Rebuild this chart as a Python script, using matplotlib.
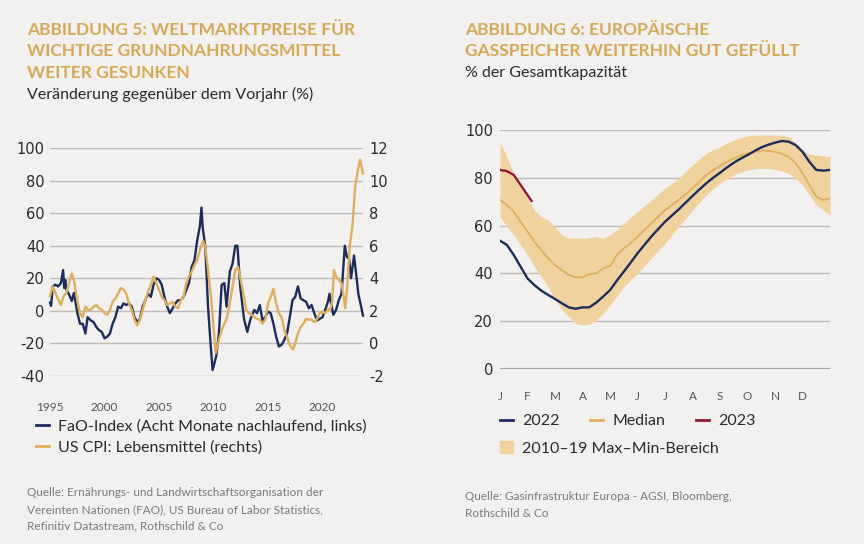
import matplotlib
matplotlib.use("Agg")
import matplotlib.pyplot as plt
from matplotlib.lines import Line2D
from matplotlib.patches import Patch

plt.rcParams["axes.unicode_minus"] = False

# --- Abbildung 5: FAO-Index (links) und US CPI Lebensmittel (rechts) ---
fao_years = [1995.0, 1995.1, 1995.25, 1995.5, 1995.75, 1996.0, 1996.2, 1996.3, 1996.4, 1996.5,
             1996.75, 1997.0, 1997.2, 1997.5, 1997.75, 1998.0, 1998.25, 1998.45, 1998.75, 1999.0,
             1999.25, 1999.5, 1999.75, 2000.0, 2000.25, 2000.5, 2000.75, 2001.0, 2001.25, 2001.5,
             2001.75, 2002.0, 2002.25, 2002.5, 2002.75, 2003.0, 2003.25, 2003.5, 2003.75, 2004.0,
             2004.25, 2004.5, 2004.75, 2005.0, 2005.25, 2005.5, 2005.75, 2006.0, 2006.25, 2006.5,
             2006.75, 2007.0, 2007.25, 2007.5, 2007.75, 2008.0, 2008.25, 2008.5, 2008.75, 2008.9,
             2009.0, 2009.25, 2009.5, 2009.75, 2009.92, 2010.25, 2010.5, 2010.75, 2011.0, 2011.2,
             2011.5, 2011.75, 2012.0, 2012.2, 2012.45, 2012.8, 2013.1, 2013.4, 2013.75, 2014.0,
             2014.25, 2014.5, 2014.75, 2015.0, 2015.25, 2015.5, 2015.75, 2016.0, 2016.25, 2016.5,
             2016.75, 2017.0, 2017.25, 2017.5, 2017.75, 2018.0, 2018.25, 2018.5, 2018.75, 2019.0,
             2019.25, 2019.5, 2019.75, 2020.0, 2020.25, 2020.5, 2020.65, 2020.8, 2021.0, 2021.25,
             2021.5, 2021.75, 2022.05, 2022.25, 2022.45, 2022.62, 2022.9, 2023.1, 2023.3, 2023.5,
             2023.72]
fao_vals = [5, 3, 15, 16, 15, 17, 25, 14, 19, 13,
            10, 6, 11, -1, -8, -8, -14, -4, -6, -7,
            -10, -12, -13, -17, -16, -14, -8, -4, 2.5, 1.5,
            4.5, 3.5, 4.5, 2.5, -4, -7, -5, 2.5, 6.5, 10.5,
            8.5, 16, 20, 19, 16, 8.5, 2.5, -1.5, 1.5, 4.5,
            6.5, 6.5, 8.5, 12.5, 17, 27, 31, 43, 52, 63.5,
            52, 39, 2.5, -22, -36.5, -28, -14, 16, 17, 2.5,
            24, 29, 40, 40, 15, -5, -13, -5, 0.5, -1.5,
            3.5, -6, -4, -0.5, -1.5, -8, -16, -22, -21, -18,
            -14, -4, 6.5, 8.5, 15, 7.5, 6.5, 5.5, 1.5, 3.5,
            -1.5, -6, -5, -4, 0.5, 5.5, 10.5, 4, -2.5, 0.5,
            6.5, 10.5, 40, 33, 32, 20, 34, 22, 10, 4,
            -3]

cpi_years = [1995.0, 1995.25, 1995.5, 1995.75, 1996.0, 1996.25, 1996.5, 1996.75, 1997.0, 1997.25,
             1997.5, 1997.75, 1998.0, 1998.25, 1998.5, 1998.75, 1999.0, 1999.25, 1999.5, 1999.75,
             2000.0, 2000.25, 2000.5, 2000.75, 2001.0, 2001.25, 2001.5, 2001.75, 2002.0, 2002.25,
             2002.5, 2002.75, 2003.0, 2003.25, 2003.5, 2003.75, 2004.0, 2004.25, 2004.5, 2004.75,
             2005.0, 2005.25, 2005.5, 2005.75, 2006.0, 2006.25, 2006.5, 2006.75, 2007.0, 2007.25,
             2007.5, 2007.75, 2008.0, 2008.25, 2008.5, 2008.75, 2009.05, 2009.25, 2009.5, 2009.75,
             2010.0, 2010.2, 2010.5, 2010.75, 2011.0, 2011.25, 2011.5, 2011.75, 2012.0, 2012.25,
             2012.5, 2012.75, 2013.0, 2013.25, 2013.5, 2013.75, 2014.0, 2014.25, 2014.5, 2014.75,
             2015.0, 2015.25, 2015.5, 2015.75, 2016.0, 2016.25, 2016.5, 2016.75, 2017.0, 2017.3,
             2017.5, 2017.75, 2018.0, 2018.25, 2018.5, 2018.75, 2019.0, 2019.25, 2019.5, 2019.75,
             2020.0, 2020.25, 2020.5, 2020.75, 2020.9, 2021.05, 2021.25, 2021.5, 2021.75, 2022.0,
             2022.08, 2022.25, 2022.5, 2022.75, 2023.0, 2023.25, 2023.45, 2023.72]
cpi_vals = [2.9, 3.5, 3.1, 2.7, 2.35, 2.9, 3.1, 3.7, 4.3, 3.7,
            2.65, 1.85, 1.6, 2.25, 2.05, 2.05, 2.25, 2.35, 2.15, 2.05,
            1.85, 1.75, 2.05, 2.55, 2.75, 3.05, 3.4, 3.3, 3.05, 2.45,
            2.05, 1.45, 1.1, 1.45, 2.05, 2.65, 3.15, 3.6, 4.1, 3.7,
            3.3, 2.85, 2.65, 2.35, 2.45, 2.55, 2.25, 2.15, 2.65, 2.85,
            3.7, 4.1, 4.4, 4.8, 5.1, 5.75, 6.3, 5.95, 4.5, 3.05,
            1.0, -0.6, 0.2, 0.8, 1.2, 1.6, 2.45, 3.5, 4.5, 4.7,
            3.9, 3.05, 2.05, 1.85, 1.75, 1.6, 1.5, 1.45, 1.2, 1.45,
            2.45, 2.85, 3.35, 2.45, 1.85, 1.6, 0.8, 0.4, -0.1, -0.4,
            0.0, 0.6, 1.0, 1.2, 1.5, 1.45, 1.45, 1.3, 1.5, 1.85,
            1.95, 1.85, 2.05, 2.15, 2.6, 4.5, 4.1, 3.9, 3.7, 2.65,
            2.15, 3.3, 5.95, 7.2, 9.6, 10.65, 11.3, 10.45]

year_ticks = [1995, 2000, 2005, 2010, 2015, 2020]

# --- Abbildung 6: Gasspeicher (% der Gesamtkapazitaet) ---
months = ["J", "F", "M", "A", "M", "J", "J", "A", "S", "O", "N", "D"]
band_m = [i * 0.25 for i in range(49)]
band_max = [94.7, 88.8, 81.9, 76.3, 71.4, 66.5, 63.7, 62.3, 59.6, 56.1,
            54.7, 54.7, 54.7, 55.0, 55.4, 54.7, 56.1, 58.2, 60.9, 63.4,
            65.8, 68.3, 70.7, 73.2, 75.6, 77.7, 79.8, 82.6, 85.4, 87.9,
            90.2, 91.8, 93.0, 94.5, 95.8, 96.8, 97.5, 97.8, 97.9, 97.9,
            97.9, 97.7, 97.2, 94.4, 91.6, 89.8, 89.5, 89.2, 88.8]
band_min = [63.7, 59.6, 56.1, 51.9, 47.7, 42.8, 38.6, 34.4, 28.9, 24.7,
            21.9, 19.1, 18.4, 18.8, 20.5, 23.3, 26.8, 30.3, 34.4, 37.2,
            40.0, 43.2, 46.3, 49.5, 52.6, 56.1, 59.6, 63.0, 66.5, 69.7,
            72.8, 75.4, 77.7, 79.6, 81.2, 82.4, 83.3, 83.8, 84.0, 83.9,
            83.5, 82.8, 81.9, 79.8, 77.0, 72.8, 68.6, 66.5, 64.4]
median = [70.7, 68.6, 65.8, 61.6, 57.5, 53.3, 49.8, 46.3, 43.5, 41.4,
          39.3, 38.4, 38.4, 39.7, 40.0, 42.1, 43.1, 47.7, 50.5, 52.6,
          55.4, 58.1, 60.9, 63.7, 66.5, 68.6, 70.7, 73.1, 75.6, 78.4,
          81.2, 83.2, 84.9, 86.6, 88.1, 89.3, 90.2, 90.9, 91.4, 91.3,
          90.9, 90.0, 88.8, 86.1, 81.9, 77.0, 72.1, 70.7, 71.4]
gas_2022 = [53.7, 51.9, 47.7, 42.8, 37.9, 35.1, 32.8, 31.0, 29.3, 27.5,
            25.8, 25.2, 25.8, 25.8, 27.8, 30.3, 33.0, 37.0, 40.7, 44.5,
            48.4, 51.9, 55.4, 58.5, 61.6, 64.2, 66.8, 69.6, 72.4, 75.1,
            77.7, 80.0, 82.1, 84.3, 86.3, 88.0, 89.5, 91.2, 92.7, 93.8,
            94.7, 95.4, 95.1, 93.7, 90.9, 86.7, 83.3, 83.0, 83.3]
m_2023 = [0, 0.25, 0.5, 0.75, 1.0, 1.15]
gas_2023 = [83.3, 82.8, 81.2, 77.0, 72.8, 70.3]

bg = "#F3F0F0"
navy = "#1C2D5A"
gold = "#DDAF5F"
band_col = "#F0D29E"
red = "#8E1B33"
title_col = "#D6A957"
grid_col = "#BEBBB9"
txt = "#2B2B2B"
src_col = "#7A7A7A"
cond = ["Lato", "DejaVu Sans"]

fig = plt.figure(figsize=(8.64, 5.44), dpi=100, facecolor=bg)

# left chart
ax1 = fig.add_axes([50 / 864, 1 - 375.7 / 544, 313 / 864, 227.4 / 544])
ax1.set_facecolor(bg)
ax1.set_xlim(1995, 2023.72)
ax1.set_ylim(-40, 100)
ax1.set_yticks(range(-40, 101, 20))
ax1.grid(axis="y", color=grid_col, lw=1)
ax1.set_axisbelow(True)
ax1.set_xticks(year_ticks)
ax1.set_xticklabels([str(y) for y in year_ticks], family=cond, fontsize=8.5, color="#555555")
ax1.tick_params(axis="x", length=0, pad=19)
ax1.tick_params(axis="y", length=0, pad=4, labelsize=10.5, labelcolor=txt)
for s in ax1.spines.values():
    s.set_visible(False)
ax1.plot(fao_years, fao_vals, color=navy, lw=1.7, clip_on=False)

ax2 = ax1.twinx()
ax2.set_ylim(-2, 12)
ax2.set_yticks(range(-2, 13, 2))
ax2.tick_params(axis="y", length=0, pad=4.5, labelsize=10.5, labelcolor=txt)
for s in ax2.spines.values():
    s.set_visible(False)
ax2.plot(cpi_years, cpi_vals, color=gold, lw=1.7, clip_on=False)

# right chart
ax3 = fig.add_axes([500 / 864, 1 - 369 / 544, 330 / 864, 239 / 544])
ax3.set_facecolor(bg)
ax3.set_xlim(0, 12)
ax3.set_ylim(0, 100)
ax3.set_yticks(range(0, 101, 20))
ax3.grid(axis="y", color=grid_col, lw=1)
ax3.set_axisbelow(True)
ax3.axhline(0, color="#A8A5A3", lw=1.6, zorder=1)
ax3.set_xticks(range(12))
ax3.set_xticklabels(months, family=cond, fontsize=8.5, color="#555555")
ax3.tick_params(axis="x", length=0, pad=16)
ax3.tick_params(axis="y", length=0, pad=5, labelsize=10.5, labelcolor=txt)
for s in ax3.spines.values():
    s.set_visible(False)
ax3.fill_between(band_m, band_min, band_max, color=band_col, lw=0, zorder=2)
ax3.plot(band_m, median, color=gold, lw=1.3, zorder=3)
ax3.plot(band_m, gas_2022, color=navy, lw=1.7, zorder=4)
ax3.plot(m_2023, gas_2023, color=red, lw=1.7, zorder=5)

# titles
fig.text(27 / 864, 1 - 22 / 544, "ABBILDUNG 5: WELTMARKTPREISE FÜR\nWICHTIGE GRUNDNAHRUNGSMITTEL\nWEITER GESUNKEN",
         family="Lato", weight="bold", fontsize=12.5, color=title_col, va="top", linespacing=1.42)
fig.text(27 / 864, 1 - 87 / 544, "Veränderung gegenüber dem Vorjahr (%)",
         family=cond, fontsize=11.5, color=txt, va="top")
fig.text(465 / 864, 1 - 22 / 544, "ABBILDUNG 6: EUROPÄISCHE\nGASSPEICHER WEITERHIN GUT GEFÜLLT",
         family="Lato", weight="bold", fontsize=12.5, color=title_col, va="top", linespacing=1.42)
fig.text(465 / 864, 1 - 66 / 544, "% der Gesamtkapazität",
         family=cond, fontsize=11.5, color=txt, va="top")

# legends
leg_font = {"family": cond, "size": 11.5}
h1 = [Line2D([], [], color=navy, lw=2), Line2D([], [], color=gold, lw=2)]
l1 = ["FaO-Index (Acht Monate nachlaufend, links)", "US CPI: Lebensmittel (rechts)"]
fig.legend(h1, l1, loc="upper left", bbox_to_anchor=(28 / 864, 1 - 411 / 544), frameon=False,
           prop=leg_font, handlelength=0.8, handletextpad=0.6, labelspacing=0.45, borderpad=0,
           labelcolor=txt)

h2 = [Line2D([], [], color=navy, lw=2), Line2D([], [], color=gold, lw=2), Line2D([], [], color=red, lw=2)]
fig.legend(h2, ["2022", "Median", "2023"], loc="upper left", bbox_to_anchor=(492 / 864, 1 - 406 / 544),
           frameon=False, ncol=3, prop=leg_font, handlelength=0.8, handletextpad=0.6,
           columnspacing=1.9, borderpad=0, labelcolor=txt)
fig.legend([Patch(color=band_col)], ["2010–19 Max–Min-Bereich"], loc="upper left",
           bbox_to_anchor=(492 / 864, 1 - 433 / 544), frameon=False, prop=leg_font,
           handlelength=0.8, handleheight=0.8, handletextpad=0.6, borderpad=0, labelcolor=txt)

# sources
fig.text(27 / 864, 1 - 487 / 544,
         "Quelle: Ernährungs- und Landwirtschaftsorganisation der\n"
         "Vereinten Nationen (FAO), US Bureau of Labor Statistics,\n"
         "Refinitiv Datastream, Rothschild & Co",
         family=cond, fontsize=8.5, color=src_col, va="top", linespacing=1.65)
fig.text(465 / 864, 1 - 491 / 544,
         "Quelle: Gasinfrastruktur Europa - AGSI, Bloomberg,\nRothschild & Co",
         family=cond, fontsize=8.5, color=src_col, va="top", linespacing=1.65)

fig.savefig("out.png", dpi=100, facecolor=bg)
